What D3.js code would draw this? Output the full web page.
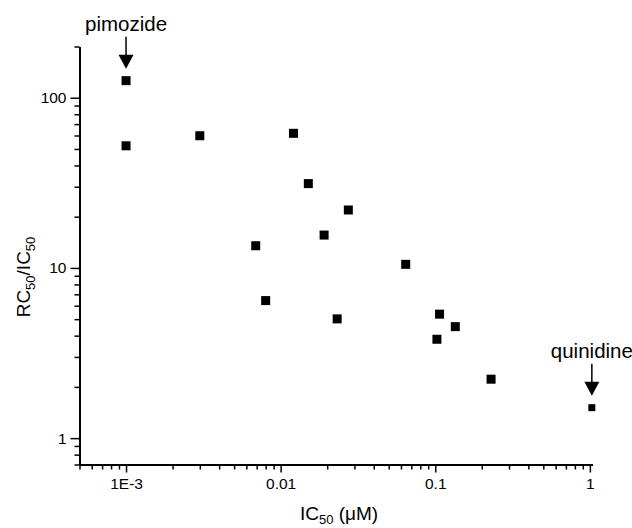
<!DOCTYPE html>
<html>
<head>
<meta charset="utf-8">
<script src="https://cdn.jsdelivr.net/npm/d3@7"></script>
<style>
  body { margin: 0; background: #fff; }
  text { font-family: "Liberation Sans", Arial, sans-serif; fill: #000; }
</style>
</head>
<body>
<div id="chart"></div>
<script>
// IC50 (uM) and RC50/IC50
const ic50 = [0.001, 0.001, 0.003, 0.0069, 0.0080, 0.0121, 0.0151, 0.0191, 0.0232, 0.0274,
  0.0644, 0.1025, 0.1066, 0.1348, 0.2296, 1.03];
const ratio = [126, 52.2, 59.8, 13.5, 6.43, 61.8, 31.3, 15.6, 5.02, 21.9,
  10.5, 3.81, 5.35, 4.52, 2.22, 1.51];

// arrow labels: [point index, text]
const notes = [[0, "pimozide"], [15, "quinidine"]];

const xMajor = [0.001, 0.01, 0.1, 1];
const xMajorLabels = ["1E-3", "0.01", "0.1", "1"];
const yMajor = [1, 10, 100];
const yMajorLabels = ["1", "10", "100"];

const w = 632;
const h = 528;
const margin = { top: 46.5, right: 39.5, bottom: 63.5, left: 79.5 };

const x = d3.scaleLog()
  .domain([5e-4, 1.04])
  .range([margin.left, w - margin.right]);

const y = d3.scaleLog()
  .domain([0.7, 200])
  .range([h - margin.bottom, margin.top]);

const svg = d3.select("#chart")
  .append("svg")
  .attr("width", w)
  .attr("height", h);

// minor ticks
const xMinor = x.ticks().filter((v) => !xMajor.includes(v));
const yMinor = y.ticks().filter((v) => !yMajor.includes(v));

const xMinorAxis = d3.axisBottom(x).tickValues(xMinor).tickFormat("").tickSize(5).tickSizeOuter(0);
const yMinorAxis = d3.axisLeft(y).tickValues(yMinor).tickFormat("").tickSize(5).tickSizeOuter(0);

const xAxis = d3.axisBottom(x)
  .tickValues(xMajor)
  .tickFormat((d, i) => xMajorLabels[i])
  .tickSize(8)
  .tickSizeOuter(0)
  .tickPadding(5);
const yAxis = d3.axisLeft(y)
  .tickValues(yMajor)
  .tickFormat((d, i) => yMajorLabels[i])
  .tickSize(9)
  .tickSizeOuter(0)
  .tickPadding(4);

const gx = svg.append("g").attr("transform", "translate(0," + (h - margin.bottom) + ")");
gx.append("g").call(xMinorAxis);
gx.append("g").call(xAxis);

const gy = svg.append("g").attr("transform", "translate(" + margin.left + ",0)");
gy.append("g").call(yMinorAxis);
gy.append("g").call(yAxis);

svg.selectAll(".domain").attr("stroke", "#000").attr("stroke-width", 2);
svg.selectAll(".tick line").attr("stroke", "#000").attr("stroke-width", 1.5);
svg.selectAll(".tick text")
  .attr("font-size", 15.5)
  .attr("font-family", "Liberation Sans, Arial, sans-serif")
  .attr("fill", "#000");

// points
svg.selectAll(".pt")
  .data(ic50)
  .enter()
  .append("rect")
  .attr("class", "pt")
  .each(function (d, i) {
    const s = i === ic50.length - 1 ? 7 : 9;
    d3.select(this)
      .attr("x", x(d) - s / 2)
      .attr("y", y(ratio[i]) - s / 2)
      .attr("width", s)
      .attr("height", s);
  })
  .attr("fill", "#000");

// arrows with labels
const note = svg.selectAll(".note")
  .data(notes)
  .enter()
  .append("g")
  .attr("class", "note")
  .attr("transform", (d) => "translate(" + x(ic50[d[0]]) + "," + y(ratio[d[0]]) + ")");

note.append("line")
  .attr("x1", 0).attr("x2", 0)
  .attr("y1", -44).attr("y2", -25)
  .attr("stroke", "#000")
  .attr("stroke-width", 1.5);
note.append("path")
  .attr("d", "M-7.5,-26L7.5,-26L0,-12Z")
  .attr("fill", "#000");
note.append("text")
  .attr("y", -50)
  .attr("text-anchor", "middle")
  .attr("font-size", 20.5)
  .text((d) => d[1]);

// axis titles
const xt = svg.append("text")
  .attr("x", 339)
  .attr("y", 520)
  .attr("text-anchor", "middle")
  .attr("font-size", 19);
xt.append("tspan").text("IC");
xt.append("tspan").attr("dy", 4).attr("font-size", 13).text("50");
xt.append("tspan").attr("dy", -4).text(" (\u03BCM)");

const yt = svg.append("text")
  .attr("transform", "translate(30,277) rotate(-90)")
  .attr("text-anchor", "middle")
  .attr("font-size", 19);
yt.append("tspan").text("RC");
yt.append("tspan").attr("dy", 5).attr("font-size", 13).text("50");
yt.append("tspan").attr("dy", -5).text("/IC");
yt.append("tspan").attr("dy", 5).attr("font-size", 13).text("50");
</script>
</body>
</html>
